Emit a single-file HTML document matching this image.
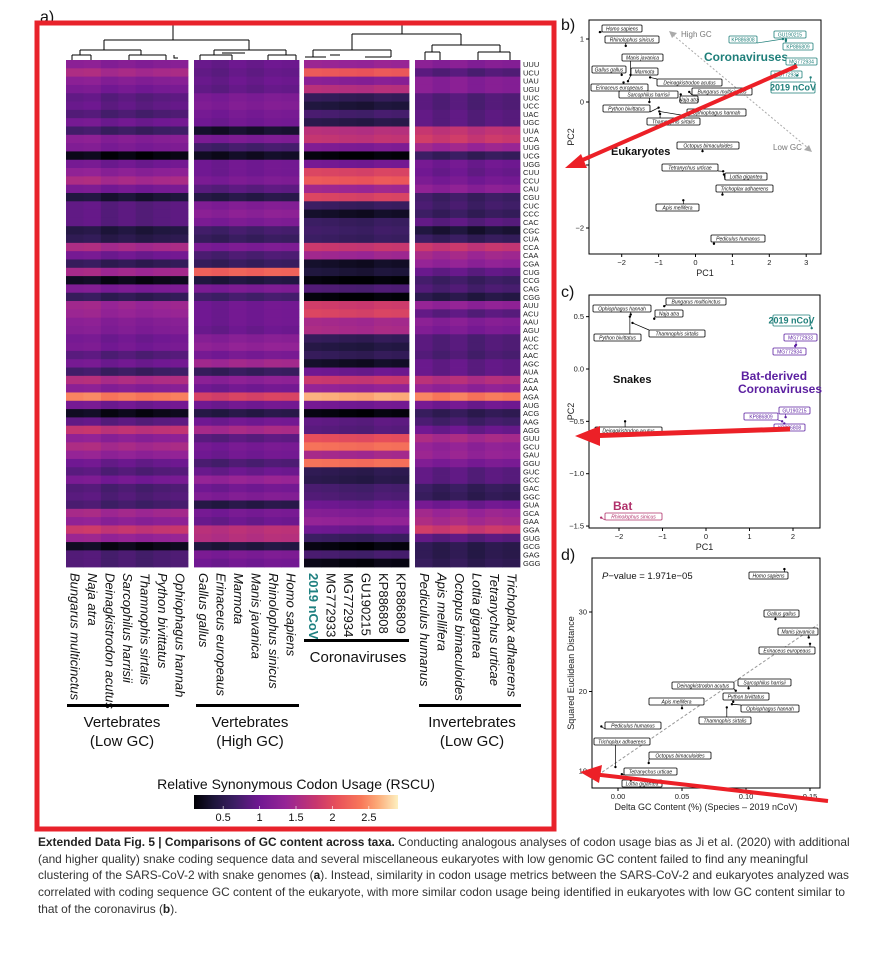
<!DOCTYPE html>
<html><head><meta charset="utf-8">
<style>
html,body{margin:0;padding:0;background:#fff;}
body{width:873px;height:969px;position:relative;overflow:hidden;font-family:"Liberation Sans",sans-serif;}
#cap{position:absolute;left:38px;top:834px;width:835px;font-size:11.9px;line-height:16.7px;color:#333;white-space:nowrap;}
#cap b{color:#222;}
svg text{font-family:"Liberation Sans",sans-serif;}
</style></head>
<body>
<svg id="fig" width="873" height="969" viewBox="0 0 873 969" style="position:absolute;left:0;top:0">
  <defs>
    <linearGradient id="magma" x1="0" x2="1" y1="0" y2="0">
      <stop offset="0" stop-color="#000004"/><stop offset="0.1" stop-color="#1e163c"/>
      <stop offset="0.2" stop-color="#3c1e64"/><stop offset="0.32" stop-color="#701892"/>
      <stop offset="0.45" stop-color="#962496"/><stop offset="0.6" stop-color="#c8376e"/>
      <stop offset="0.7" stop-color="#e8505a"/><stop offset="0.82" stop-color="#f8785a"/>
      <stop offset="0.9" stop-color="#fcaa78"/><stop offset="1" stop-color="#fdf0c0"/>
    </linearGradient>
  </defs>
  <g id="heat"></g>
  <g id="dendro" stroke="#000" stroke-width="1" fill="none">
    <path d="M173 24V40M104 40H249M104 40V50M249 40V50M80 50H141M80 50V55M141 50V55M72 55H91M129 55H166M72 55V60M91 55V60M129 55V60M166 55V60M174 55V58H178"/>
    <path d="M214 50H286M214 50V55M286 50V55M200 55H232M268 55H296M200 55V60M232 55V60M268 55V60M296 55V60M222 53H245"/>
    <path d="M402 24V34M352 34H461M352 34V50M313 50H391M313 50V57M391 50V57M461 34V45M432 45H500M432 45V52M500 45V52M425 52H440M478 52H510M425 52V60M440 52V60M478 52V60M510 52V60"/>
    <path d="M305 57H326M365 57H391M330 55H340"/>
  </g>
  <g id="codons" font-size="7.5" fill="#222"></g>
  <g id="collabels" font-size="13" fill="#111"></g>
  <g font-size="15" fill="#111" text-anchor="middle">
    <rect x="67" y="704" width="102" height="3" fill="#000"/>
    <rect x="196" y="704" width="103" height="3" fill="#000"/>
    <rect x="304" y="639" width="105" height="3" fill="#000"/>
    <rect x="419" y="704" width="102" height="3" fill="#000"/>
    <text x="122" y="727">Vertebrates</text>
    <text x="122" y="746">(Low GC)</text>
    <text x="250" y="727">Vertebrates</text>
    <text x="250" y="746">(High GC)</text>
    <text x="358" y="662">Coronaviruses</text>
    <text x="472" y="727">Invertebrates</text>
    <text x="472" y="746">(Low GC)</text>
  </g>
  <g>
    <text x="296" y="789" font-size="14" text-anchor="middle" fill="#111">Relative Synonymous Codon Usage (RSCU)</text>
    <rect x="194" y="795" width="204" height="14" fill="url(#magma)"/>
    <g id="legticks" font-size="11" text-anchor="middle" fill="#111"></g>
  </g>
  <g id="panelB"></g>
  <g id="panelC"></g>
  <g id="panelD"></g>
  <text x="40" y="22" font-size="16" fill="#111">a)</text>
  <rect x="37" y="23" width="517" height="806" fill="none" stroke="#e8222b" stroke-width="5"/>
  <g fill="#ec2027" stroke="#ec2027">
    <line x1="797" y1="66" x2="578" y2="162" stroke-width="4"/>
    <polygon points="565,168 581,154 587,168" stroke="none"/>
    <line x1="790" y1="429" x2="585" y2="436" stroke-width="5"/>
    <polygon points="575,436 600,426 600,446" stroke="none"/>
    <line x1="828" y1="801" x2="592" y2="774" stroke-width="4"/>
    <polygon points="580,772 602,765 599,783" stroke="none"/>
  </g>
</svg>
<div id="cap"><b>Extended Data Fig. 5 | Comparisons of GC content across taxa.</b> Conducting analogous analyses of codon usage bias as Ji et al. (2020) with additional<br>(and higher quality) snake coding sequence data and several miscellaneous eukaryotes with low genomic GC content failed to find any meaningful<br>clustering of the SARS-CoV-2 with snake genomes (<b>a</b>). Instead, similarity in codon usage metrics between the SARS-CoV-2 and eukaryotes analyzed was<br>correlated with coding sequence GC content of the eukaryote, with more similar codon usage being identified in eukaryotes with low GC content similar to<br>that of the coronavirus (<b>b</b>).</div>
<script>
// ===== Heatmap data =====
const codons = ["UUU","UCU","UAU","UGU","UUC","UCC","UAC","UGC","UUA","UCA","UUG","UCG","UGG","CUU","CCU","CAU","CGU","CUC","CCC","CAC","CGC","CUA","CCA","CAA","CGA","CUG","CCG","CAG","CGG","AUU","ACU","AAU","AGU","AUC","ACC","AAC","AGC","AUA","ACA","AAA","AGA","AUG","ACG","AAG","AGG","GUU","GCU","GAU","GGU","GUC","GCC","GAC","GGC","GUA","GCA","GAA","GGA","GUG","GCG","GAG","GGG"];
const speciesLowVert = ["Bungarus multicinctus","Naja atra","Deinagkistrodon acutus","Sarcophilus harrisii","Thamnophis sirtalis","Python bivittatus","Ophiophagus hannah"];
const speciesHighVert = ["Gallus gallus","Erinaceus europeaus","Marmota","Manis javanica","Rhinolophus sinicus","Homo sapiens"];
const speciesCov = ["2019 nCoV","MG772933","MG772934","GU190215","KP886808","KP886809"];
const speciesInv = ["Pediculus humanus","Apis mellifera","Octopus bimaculoides","Lottia gigantea","Tetranychus urticae","Trichoplax adhaerens"];
const rscuLowVert = [1.2,1.5,1.2,1.05,0.85,0.9,0.75,1.0,0.65,1.2,1.1,0.15,1.0,1.25,1.5,1.05,0.35,0.85,0.85,0.85,0.4,0.5,1.5,1.0,0.55,1.45,0.2,1.1,0.55,1.4,1.35,1.2,1.15,1.0,1.05,0.8,1.0,0.65,1.55,1.2,2.4,1.0,0.2,0.85,1.7,1.25,1.5,1.3,0.95,0.8,1.05,0.75,0.8,0.7,1.45,1.25,1.75,1.35,0.2,0.75,0.75];
const rscuHighVert = [0.95,0.9,0.95,0.9,1.1,1.15,1.05,1.0,0.3,1.1,0.7,0.25,1.0,1.0,1.1,0.85,0.45,1.15,1.25,1.1,0.7,0.6,1.1,0.75,0.6,2.2,0.4,1.1,0.7,1.0,1.0,1.0,0.95,1.2,1.3,1.05,1.45,0.6,1.25,1.0,1.9,1.0,0.45,1.0,1.5,0.85,1.05,1.0,0.75,0.95,1.35,1.0,1.15,0.45,1.05,0.95,1.65,1.6,0.4,1.1,1.0];
const rscuCov = [1.35,2.1,1.2,1.6,0.55,0.35,0.7,0.45,1.6,1.7,1.1,0.1,1.0,1.9,2.1,1.4,1.9,0.6,0.25,0.6,0.65,0.6,1.75,1.4,0.25,0.35,0.1,0.75,0.1,1.8,1.9,1.45,1.5,0.55,0.4,0.55,0.25,0.95,1.75,1.3,2.6,1.0,0.12,0.85,0.8,2.0,2.3,1.45,2.3,0.5,0.45,0.7,0.75,0.95,1.15,1.3,0.95,0.6,0.12,0.7,0.15];
const rscuInv = [1.2,0.8,1.2,1.2,0.8,0.8,0.85,0.85,1.7,1.8,1.4,0.6,1.0,0.95,1.05,1.25,0.65,0.7,0.6,0.85,0.35,0.6,1.75,1.45,1.3,0.9,0.65,0.75,0.45,1.3,0.85,1.2,1.1,0.8,0.8,0.75,0.9,0.9,1.6,1.3,2.4,1.0,0.55,0.7,0.95,1.5,1.3,1.35,1.1,0.85,0.85,0.6,0.55,1.0,1.4,1.5,1.8,0.85,0.5,0.5,0.55];
const colShiftLowVert = [0.05,0.08,-0.04,0.02,-0.05,0.0,0.03];
const colShiftHighVert = [0.0,-0.05,0.03,-0.02,0.04,0.02];
const colShiftCov = [0.05,0.03,0.0,-0.02,0.04,0.02];
const colShiftInv = [0.06,-0.03,0.05,-0.06,0.02,-0.02];
const legendTicks = [0.5,1,1.5,2,2.5];

const NS="http://www.w3.org/2000/svg";
function mk(tag,attrs,parent){const e=document.createElementNS(NS,tag);for(const k in attrs)e.setAttribute(k,attrs[k]);if(parent)parent.appendChild(e);return e;}

const stops=[[0,[0,0,4]],[0.1,[30,22,60]],[0.2,[60,30,100]],[0.32,[112,24,146]],[0.45,[150,36,150]],[0.6,[200,55,110]],[0.7,[232,80,90]],[0.82,[248,120,90]],[0.9,[252,170,120]],[1,[253,240,192]]];
const vMin=0.1,vMax=2.9;
function color(v){let t=(v-vMin)/(vMax-vMin);t=Math.max(0,Math.min(1,t));
 for(let i=1;i<stops.length;i++){if(t<=stops[i][0]){const a=stops[i-1],b=stops[i];const f=(t-a[0])/(b[0]-a[0]);
 const c=a[1].map((x,j)=>Math.round(x+(b[1][j]-x)*f));return `rgb(${c[0]},${c[1]},${c[2]})`;}}return "rgb(253,240,192)";}

const heatTop=60, heatBot=567, rowH=(heatBot-heatTop)/codons.length;
const groups=[
 {x:66,w:122,names:speciesLowVert,vals:rscuLowVert,shift:colShiftLowVert},
 {x:194,w:105,names:speciesHighVert,vals:rscuHighVert,shift:colShiftHighVert},
 {x:304,w:105,names:speciesCov,vals:rscuCov,shift:colShiftCov},
 {x:415,w:105,names:speciesInv,vals:rscuInv,shift:colShiftInv}];
const heat=document.getElementById('heat');
const colG=document.getElementById('collabels');
groups.forEach((g,gi)=>{
 const cw=g.w/g.names.length;
 g.names.forEach((nm,ci)=>{
  codons.forEach((cd,ri)=>{
   const r=mk('rect',{x:(g.x+ci*cw).toFixed(2),y:(heatTop+ri*rowH).toFixed(2),width:(cw+0.4).toFixed(2),height:(rowH+0.4).toFixed(2),fill:color(g.vals[ri]+g.shift[ci])},heat);
   
   
  });
  const cx=g.x+ci*cw+cw/2-4;
  const isCov=gi===2;
  const t=mk('text',{x:cx,y:573,transform:`rotate(90 ${cx} 573)`,'font-style':isCov?'normal':'italic','font-weight':(nm==="2019 nCoV")?'bold':'normal',fill:(nm==="2019 nCoV")?'#1f8080':'#111'},colG);
  t.textContent=nm;
  
  
 });
});
const cdG=document.getElementById('codons');
codons.forEach((cd,ri)=>{const t=mk('text',{x:523,y:(heatTop+ri*rowH+rowH*0.85).toFixed(1)},cdG);t.textContent=cd;
 
 });
const lt=document.getElementById('legticks');
legendTicks.forEach(v=>{const x=194+(v-vMin)/(vMax-vMin)*204;
 mk('line',{x1:x,x2:x,y1:806,y2:809,stroke:'#fff','stroke-width':0.6},lt);
 const t=mk('text',{x:x,y:821},lt);t.textContent=v;
 
 });

// ===== Panel b data =====
const bNames=["Homo sapiens","Rhinolophus sinicus","Manis javanica","Gallus gallus","Marmota","Deinagkistrodon acutus","Erinaceus europeaus","Sarcophilus harrisii","Bungarus multicinctus","Naja atra","Python bivittatus","Thamnophis sirtalis","Ophiophagus hannah","Octopus bimaculoides","Tetranychus urticae","Lottia gigantea","Trichoplax adhaerens","Apis mellifera","Pediculus humanus","KP886808","GU190215","KP886809","MG772934","MG772933","2019 nCoV"];
const bPC1=[-2.59,-1.89,-1.76,-2.0,-1.83,-1.23,-1.95,-1.25,-0.17,-0.4,-1.0,-0.96,-0.98,0.19,0.75,0.77,0.73,-0.33,0.5,2.37,2.45,2.45,2.7,2.75,3.12];
const bPC2=[1.11,0.89,0.43,0.43,0.33,0.39,0.31,0.0,0.16,0.12,-0.09,-0.19,-0.15,-0.78,-1.1,-1.15,-1.47,-1.56,-2.25,1.0,0.99,0.97,0.6,0.42,0.39];
const bXTicks=[-2,-1,0,1,2,3];
const bYTicks=[-2,-1,0,1];
// ===== Panel c data =====
const cNames=["Bungarus multicinctus","Ophiophagus hannah","Naja atra","Thamnophis sirtalis","Python bivittatus","Deinagkistrodon acutus","2019 nCoV","MG772933","MG772934","GU190215","KP886809","KP886808","Rhinolophus sinicus"];
const cPC1=[-0.96,-1.73,-1.19,-1.69,-1.75,-1.86,2.43,2.07,2.05,1.83,1.75,1.8,-2.41];
const cPC2=[0.6,0.52,0.48,0.44,0.5,-0.5,0.39,0.23,0.22,-0.46,-0.5,-0.52,-1.42];
const cXTicks=[-2,-1,0,1,2];
const cYTicks=[-1.5,-1.0,-0.5,0.0,0.5];
// ===== Panel d data =====
const dNames=["Homo sapiens","Gallus gallus","Manis javanica","Erinaceus europeaus","Sarcophilus harrisii","Deinagkistrodon acutus","Python bivittatus","Ophiophagus hannah","Thamnophis sirtalis","Apis mellifera","Pediculus humanus","Trichoplax adhaerens","Octopus bimaculoides","Tetranychus urticae","Lottia gigantea"];
const dDeltaGC=[0.130,0.123,0.149,0.150,0.102,0.092,0.090,0.089,0.085,0.050,-0.013,-0.002,0.024,0.003,0.010];
const dDist=[35.4,29.1,26.8,26.0,20.4,20.1,18.7,18.4,18.0,17.9,15.6,10.5,11.0,9.6,8.8];
const dFitX=[-0.0156,0.156];
const dFitY=[9.5,28.4];
const dXTicks=[0.00,0.05,0.10,0.15];
const dYTicks=[10,20,30];

// label box layouts (pixel boxes: x,y,w)
const bBoxes=[[602,25,40],[605,36,54],[622,54,41],[592,66,34],[631,68,27],[657,79,65],[591,84,57],[619,91,59],[692,88,60],[680,96,18],[603,105,47],[647,118,53],[687,109,59],[677,142,62],[662,164,56],[725,173,42],[716,185,57],[656,204,43],[711,235,54],[729,36,28],[774,31,32],[783,43,30],[786,58,31],[771,71,31],[771,82,44]];
const cBoxes=[[666,298,60],[593,305,58],[655,310,28],[649,330,56],[594,334,47],[595,427,67],[773,315,37],[784,334,33],[773,348,33],[779,407,31],[744,413,34],[774,424,31],[605,513,57]];
const dBoxes=[[749,572,39],[764,610,35],[778,628,40],[759,647,56],[738,679,53],[672,682,62],[723,693,46],[741,705,58],[699,717,52],[649,698,55],[605,722,56],[594,738,56],[649,752,62],[624,768,53],[622,780,40]];

function panel(id,frame,xs,ys,xt,yt,xfmt,yfmt,xlab,ylab,letter,ly){
 const g=document.getElementById(id);
 const [x0,y0,x1,y1]=frame;
 mk('rect',{x:x0,y:y0,width:x1-x0,height:y1-y0,fill:'none',stroke:'#000','stroke-width':1},g);
 xt.forEach(v=>{const x=xs(v);mk('line',{x1:x,x2:x,y1:y1,y2:y1+3,stroke:'#000'},g);
  const t=mk('text',{x:x,y:y1+11,'font-size':7.5,'text-anchor':'middle',fill:'#222'},g);t.textContent=xfmt(v);
  
  });
 yt.forEach(v=>{const y=ys(v);mk('line',{x1:x0-3,x2:x0,y1:y,y2:y,stroke:'#000'},g);
  const t=mk('text',{x:x0-5,y:y+2.5,'font-size':7.5,'text-anchor':'end',fill:'#222'},g);t.textContent=yfmt(v);
  
  });
 const xl=mk('text',{x:(x0+x1)/2,y:y1+22,'font-size':9,'text-anchor':'middle',fill:'#222'},g);xl.textContent=xlab;
 
 
 const yc=(y0+y1)/2;
 const yl=mk('text',{x:574,y:yc,'font-size':9,'text-anchor':'middle',fill:'#222',transform:`rotate(-90 574 ${yc})`},g);yl.textContent=ylab;
 
 
 const pl=mk('text',{x:561,y:ly,'font-size':16,fill:'#111'},g);pl.textContent=letter;
 
 
 return g;
}
function labels(g,names,xv,yv,xs,ys,boxes,colorFn){
 names.forEach((nm,i)=>{
  const px=xs(xv[i]),py=ys(yv[i]);const b=boxes[i];const c=colorFn(nm);
  const bx=b[0],by=b[1],bw=b[2];
  const ex=Math.max(bx,Math.min(bx+bw,px)),ey=(py<by)?by:by+7;
  mk('line',{x1:px,y1:py,x2:ex,y2:ey,stroke:c.s,'stroke-width':0.7},g);
  const r=mk('rect',{x:bx,y:by,width:bw,height:7,rx:1,fill:'#fff',stroke:c.s,'stroke-width':0.8},g);
  
  
  const t=mk('text',{x:bx+bw/2,y:by+5.4,'font-size':c.bold?9:5,'text-anchor':'middle','font-style':c.it?'italic':'normal','font-weight':c.bold?'bold':'normal',fill:c.t},g);
  if(c.bold){r.setAttribute('height',11);t.setAttribute('y',by+8.5);}
  t.textContent=nm;
  
  
  const p=mk('circle',{cx:px,cy:py,r:1.2,fill:c.s},g);
  
  
 });
}
const isVirus=n=>/^(KP|GU|MG)/.test(n);
// Panel b
{const xs=v=>695.5+v*36.9, ys=v=>102-v*63;
 const g=panel('panelB',[589,20,821,254],xs,ys,bXTicks,bYTicks,v=>v<0?'\u2212'+(-v):''+v,v=>v<0?'\u2212'+(-v):''+v,'PC1','PC2','b)',30);
 mk('line',{x1:673,y1:35,x2:808,y2:148,stroke:'#aaa','stroke-dasharray':'2,2'},g);
 mk('polygon',{points:'669,31 677,33 672,38',fill:'#aaa'},g);mk('polygon',{points:'812,152 804,150 809,145',fill:'#aaa'},g);
 [['High GC',681,37,8,'#777','normal'],['Low GC',773,150,8,'#777','normal'],['Coronaviruses',704,61,12,'#1f7f7a','bold'],['Eukaryotes',611,155,11,'#111','bold']].forEach(a=>{
  const t=mk('text',{x:a[1],y:a[2],'font-size':a[3],fill:a[4],'font-weight':a[5]},g);t.textContent=a[0];
  
  });
 labels(g,bNames,bPC1,bPC2,xs,ys,bBoxes,n=>n==='2019 nCoV'?{s:'#1f7f7a',t:'#1f7f7a',bold:true}:isVirus(n)?{s:'#1f7f7a',t:'#1f7f7a'}:{s:'#000',t:'#111',it:true});
}
// Panel c
{const xs=v=>706+v*43.5, ys=v=>369-v*104.7;
 const g=panel('panelC',[589,295,820,528],xs,ys,cXTicks,cYTicks,v=>v<0?'\u2212'+(-v):''+v,v=>(v<0?'\u2212':'')+Math.abs(v).toFixed(1),'PC1','PC2','c)',297);
 [['Snakes',613,383,11,'#111'],['Bat-derived',741,380,12,'#5b1fa0'],['Coronaviruses',738,393,12,'#5b1fa0'],['Bat',613,510,12,'#b0306a']].forEach(a=>{
  const t=mk('text',{x:a[1],y:a[2],'font-size':a[3],fill:a[4],'font-weight':'bold'},g);t.textContent=a[0];
  
  });
 labels(g,cNames,cPC1,cPC2,xs,ys,cBoxes,n=>n==='2019 nCoV'?{s:'#1f7f7a',t:'#1f7f7a',bold:true}:isVirus(n)?{s:'#5b1fa0',t:'#5b1fa0'}:n==='Rhinolophus sinicus'?{s:'#b0306a',t:'#b0306a',it:true}:{s:'#000',t:'#111',it:true});
}
// Panel d
{const xs=v=>618+v*1280, ys=v=>771-(v-10)*7.95;
 const g=panel('panelD',[592,558,820,788],xs,ys,dXTicks,dYTicks,v=>v.toFixed(2),v=>''+v,'Delta GC Content (%) (Species \u2013 2019 nCoV)','Squared Euclidean Distance','d)',560);
 const fl=mk('line',{x1:xs(dFitX[0]),y1:ys(dFitY[0]),x2:xs(dFitX[1]),y2:ys(dFitY[1]),stroke:'#999','stroke-dasharray':'3,2'},g);
 
 
 const pv=mk('text',{x:602,y:579,'font-size':9.5,fill:'#111'},g);pv.innerHTML='<tspan font-style="italic">P</tspan>\u2212value = 1.971e\u221205';
 
 
 labels(g,dNames,dDeltaGC,dDist,xs,ys,dBoxes,n=>({s:'#000',t:'#111',it:true}));
}
</script>
</body></html>
